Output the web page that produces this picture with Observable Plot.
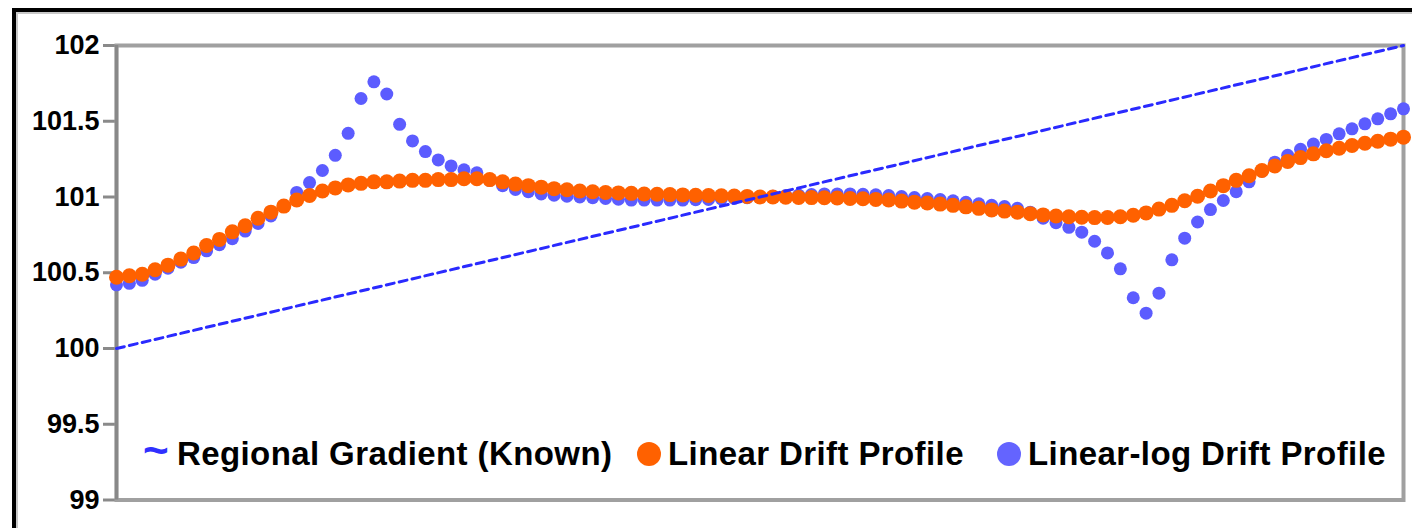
<!DOCTYPE html>
<html><head><meta charset="utf-8">
<script src="https://cdn.jsdelivr.net/npm/d3@7"></script>
<script src="https://cdn.jsdelivr.net/npm/@observablehq/plot@0.6"></script>
<style>
html,body{margin:0;padding:0;background:#fff;}
#wrap{position:relative;width:1412px;height:528px;overflow:hidden;font-family:"Liberation Sans",Arial,sans-serif;}
#wrap svg{position:absolute;left:0;top:0;}
#outer{position:absolute;left:12px;top:8px;width:1500px;height:600px;border-left:4px solid #000;border-top:4px solid #000;}
#outer2{position:absolute;left:16px;top:12px;width:1500px;height:600px;border-left:2px solid #c8c8c8;border-top:2px solid #c8c8c8;}
.leg{position:absolute;font-weight:bold;font-size:33px;letter-spacing:0.4px;color:#000;line-height:1;white-space:nowrap;}
.dot{position:absolute;border-radius:50%;}
</style></head><body><div id="wrap"><div id="outer"></div><div id="outer2"></div></div>
<script>
// Y axis ticks and labels
const yTicks = [99, 99.5, 100, 100.5, 101, 101.5, 102];
const yTickLabels = ["99", "99.5", "100", "100.5", "101", "101.5", "102"];

// Regional Gradient (Known): straight line endpoints
const gradX = [0, 100];
const gradY = [100, 102];

// Linear Drift Profile (orange), sample 0..100
const linearDrift = [
  100.47, 100.48, 100.49, 100.52, 100.55, 100.59, 100.63, 100.68, 100.72, 100.77,
  100.81, 100.86, 100.90, 100.94, 100.98, 101.01, 101.04, 101.06, 101.08, 101.09,
  101.10, 101.10, 101.105, 101.11, 101.11, 101.115, 101.115, 101.12, 101.12, 101.115,
  101.10, 101.085, 101.075, 101.065, 101.055, 101.048, 101.04, 101.035, 101.03, 101.027,
  101.024, 101.02, 101.018, 101.016, 101.014, 101.012, 101.01, 101.008, 101.006, 101.004,
  101.0, 101.0, 100.998, 100.997, 100.996, 100.995, 100.993, 100.99, 100.988, 100.984,
  100.98, 100.973, 100.966, 100.96, 100.953, 100.945, 100.935, 100.925, 100.915, 100.907,
  100.90, 100.89, 100.882, 100.875, 100.87, 100.866, 100.864, 100.865, 100.87, 100.88,
  100.895, 100.92, 100.945, 100.975, 101.005, 101.04, 101.075, 101.11, 101.14, 101.175,
  101.205, 101.235, 101.26, 101.285, 101.305, 101.322, 101.34, 101.355, 101.368, 101.382,
  101.395
];

// Linear-log Drift Profile (blue), sample 0..100
const linearLogDrift = [
  100.42, 100.43, 100.45, 100.49, 100.53, 100.57, 100.60, 100.645, 100.685, 100.725,
  100.775, 100.825, 100.875, 100.94, 101.03, 101.095, 101.175, 101.275, 101.42, 101.65,
  101.76, 101.68, 101.48, 101.37, 101.30, 101.245, 101.205, 101.18, 101.16, 101.11,
  101.075, 101.05, 101.035, 101.02, 101.012, 101.005, 101.0, 100.995, 100.99, 100.985,
  100.98, 100.98, 100.98, 100.98, 100.98, 100.982, 100.984, 100.987, 100.99, 100.995,
  101.0, 101.005, 101.01, 101.013, 101.016, 101.02, 101.02, 101.02, 101.018, 101.015,
  101.01, 101.003, 100.996, 100.99, 100.983, 100.975, 100.965, 100.955, 100.945, 100.937,
  100.925, 100.90, 100.86, 100.83, 100.80, 100.768, 100.708, 100.631, 100.526, 100.335,
  100.233, 100.365, 100.585, 100.728, 100.835, 100.917, 100.977, 101.035, 101.10, 101.17,
  101.23, 101.275, 101.315, 101.35, 101.38, 101.417, 101.45, 101.483, 101.516, 101.549,
  101.582
];

const orangeData = linearDrift.map((v, i) => ({x: i, y: v}));
const blueData = linearLogDrift.map((v, i) => ({x: i, y: v}));
const gradData = gradX.map((x, i) => ({x, y: gradY[i]}));

const chart = Plot.plot({
  width: 1412,
  height: 528,
  marginLeft: 116,
  marginRight: 9,
  marginTop: 45,
  marginBottom: 28.5,
  style: {background: "transparent", fontFamily: "'Liberation Sans', Arial, sans-serif", color: "#000"},
  x: {domain: [0, 100], axis: null},
  y: {domain: [99, 102], axis: null},
  marks: [
    Plot.axisY({
      ticks: yTicks,
      tickFormat: (d) => yTickLabels[yTicks.indexOf(d)],
      label: null,
      tickSize: 13,
      tickPadding: 4,
      stroke: "#8a8a8a",
      strokeWidth: 3,
      fontSize: 27,
      fontWeight: "bold",
      fill: "#000"
    }),
    Plot.frame({stroke: "#a0a0a0", strokeWidth: 4}),
    Plot.ruleX([0], {stroke: "#888", strokeWidth: 3.5}),
    Plot.dot(blueData, {x: "x", y: "y", r: 6.5, fill: "#5c5cff", stroke: "none"}),
    Plot.dot(orangeData, {x: "x", y: "y", r: 7.5, fill: "#ff6100", stroke: "none"}),
    Plot.line(gradData, {x: "x", y: "y", stroke: "#2a2aff", strokeWidth: 3, strokeDasharray: "8,5.2"})
  ]
});
const wrap = document.getElementById("wrap");
wrap.insertBefore(chart, wrap.firstChild);

function addText(txt, left, top, color, size) {
  const s = document.createElement("div");
  s.className = "leg"; s.textContent = txt;
  s.style.left = left + "px"; s.style.top = top + "px";
  if (color) s.style.color = color;
  if (size) s.style.fontSize = size + "px";
  wrap.appendChild(s);
}
function addDot(cx, cy, r, color) {
  const d = document.createElement("div");
  d.className = "dot";
  d.style.left = (cx - r) + "px"; d.style.top = (cy - r) + "px";
  d.style.width = (2 * r) + "px"; d.style.height = (2 * r) + "px";
  d.style.background = color;
  wrap.appendChild(d);
}
addText("~", 143, 428, "#3030ff", 44);
addText("Regional Gradient (Known)", 177, 437);
addDot(649, 454, 12, "#ff6100");
addText("Linear Drift Profile", 668, 437);
addDot(1009, 454, 12, "#6464ff");
addText("Linear-log Drift Profile", 1028, 437);
</script></body></html>
